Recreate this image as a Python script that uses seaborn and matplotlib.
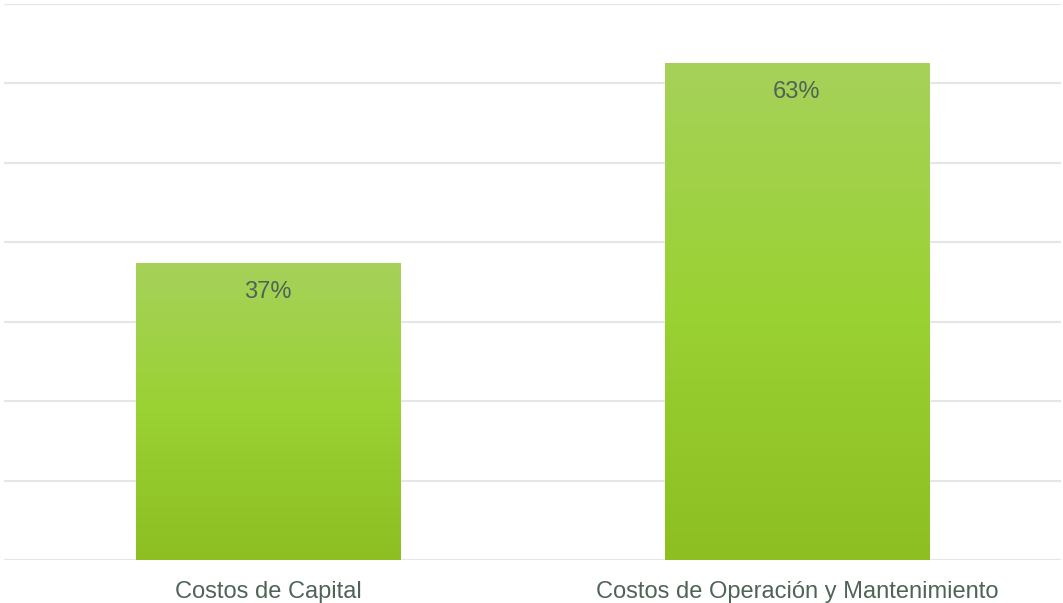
import numpy as np
import pandas as pd
import matplotlib
matplotlib.use("Agg")
import matplotlib.pyplot as plt
from matplotlib.colors import LinearSegmentedColormap
import seaborn as sns

categories = ["Costos de Capital", "Costos de Operación y Mantenimiento"]
shares = [0.374, 0.626]
labels = ["37%", "63%"]

df = pd.DataFrame({"categoria": categories, "valor": shares})

sns.set_style("white")
plt.rcParams["font.family"] = ["Liberation Sans", "DejaVu Sans"]

text_color = "#4f6457"
grid_color = "#e3e7e7"

fig = plt.figure(figsize=(10.63, 6.03), dpi=100)
ax = fig.add_axes([4 / 1063, 1 - 560 / 603, 1057 / 1063, 556 / 603])

sns.barplot(data=df, x="categoria", y="valor", color="#9ccf32", width=0.5, ax=ax, zorder=2)

# gradient fill clipped to each bar
cmap = LinearSegmentedColormap.from_list("verde", ["#8dbf22", "#9ad133", "#a6d25a"])
grad = np.linspace(0, 1, 256).reshape(-1, 1)
for p in ax.patches:
    x0, y0 = p.get_x(), p.get_y()
    w, h = p.get_width(), p.get_height()
    im = ax.imshow(grad, cmap=cmap, origin="lower", aspect="auto",
                   extent=[x0, x0 + w, y0, y0 + h], zorder=3)
    im.set_clip_path(p)

ax.set_xlim(-0.5, 1.5)
ax.set_ylim(0, 0.70)
ax.set_yticks(np.arange(0, 0.71, 0.1))
ax.yaxis.grid(True, color=grid_color, linewidth=1.5, zorder=0)
ax.set_axisbelow(True)
ax.tick_params(axis="y", left=False, labelleft=False)
ax.tick_params(axis="x", bottom=False, labelsize=17, labelcolor=text_color, pad=11.5)
ax.set_xlabel("")
ax.set_ylabel("")
for s in ax.spines.values():
    s.set_visible(False)

for i, (v, lab) in enumerate(zip(shares, labels)):
    ax.annotate(lab, (i, v), xytext=(0, -29), textcoords="offset pixels",
                ha="center", va="center", fontsize=17, color=text_color, zorder=4)

fig.savefig("out.png", dpi=100)
